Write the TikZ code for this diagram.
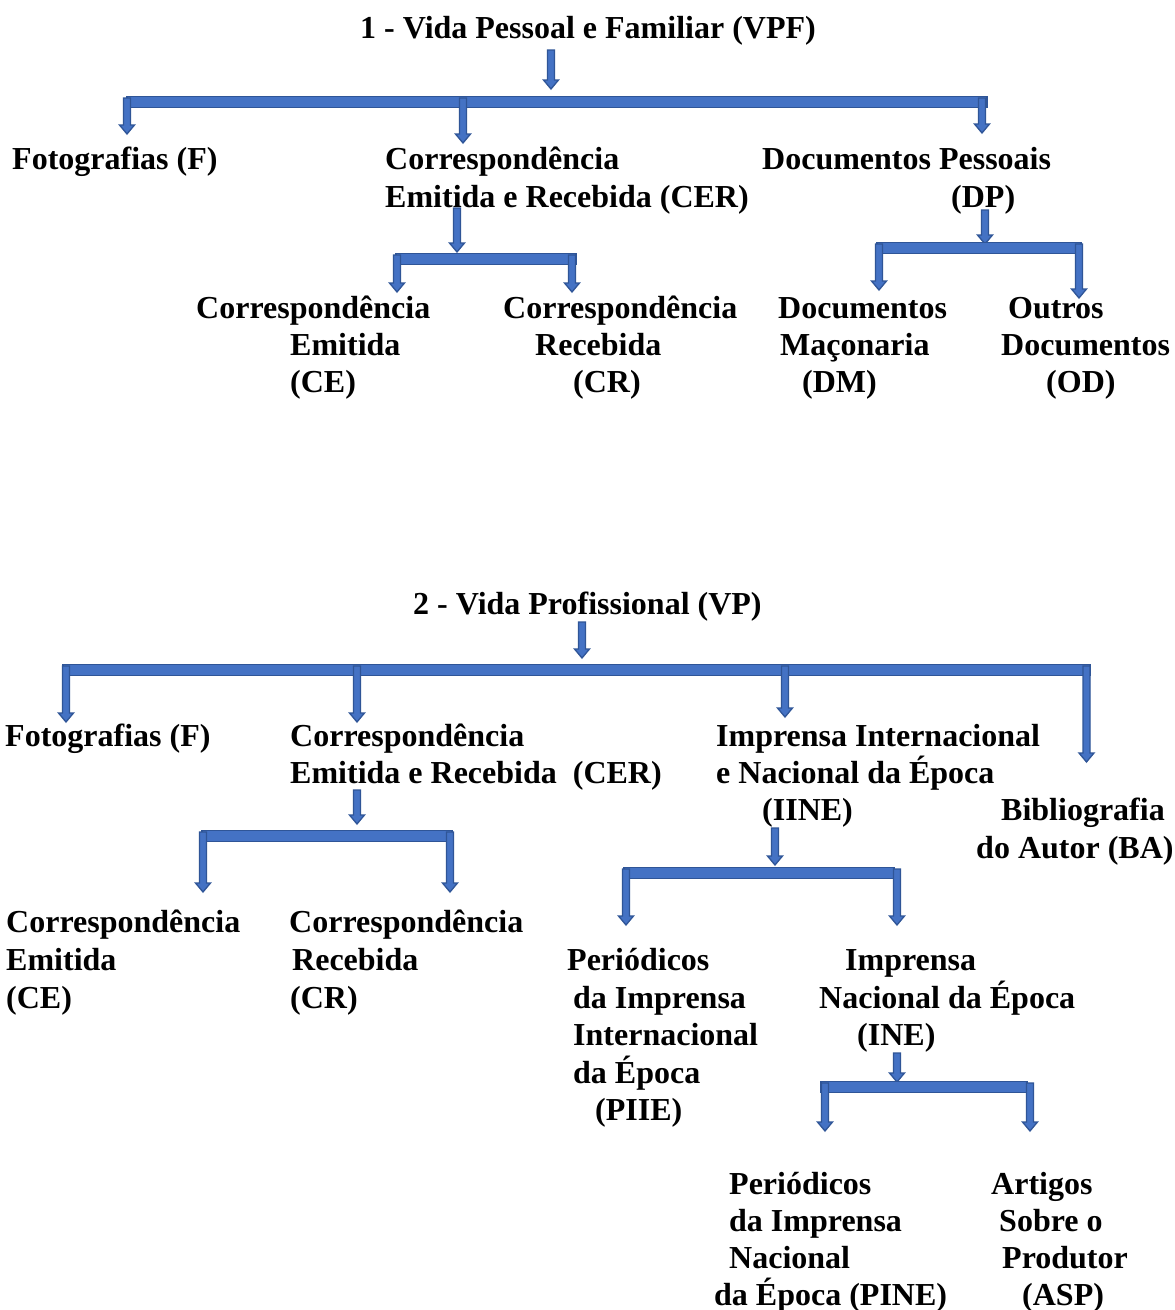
\documentclass[tikz,border=0pt]{standalone}
\usepackage{fontspec}
\setmainfont{Liberation Serif}
\definecolor{arrfill}{HTML}{4472C4}
\definecolor{arrline}{HTML}{2F5597}
\newcommand\tbfont{\fontsize{32}{37.5}\selectfont\bfseries}
\newcommand\blockarr[3]{\filldraw[arr] (#1-3.5,#2) -- (#1+3.5,#2) -- (#1+3.5,#3-9) -- (#1+7.5,#3-9) -- (#1,#3) -- (#1-7.5,#3-9) -- (#1-3.5,#3-9) -- cycle;}
\newcommand\blockbar[3]{\filldraw[arr] (#1,#3-5.5) rectangle (#2,#3+5.5);}
\tikzset{
  txt/.style={anchor=base west, inner sep=0pt, font=\tbfont, text=black, yshift=-1.5pt},
  arr/.style={fill=arrfill, draw=arrline, line width=1.3pt, line join=miter}
}
\begin{document}
\begin{tikzpicture}[x=1pt,y=-1pt]
\useasboundingbox (0,0) rectangle (1175,1310);
\fill[white] (0,0) rectangle (1175,1310);
% ---------- Section 1 ----------
\node[txt] (t1) at (360,36.5) {1 - Vida Pessoal e Familiar (VPF)};
\node[txt] (f1) at (12,167.5) {Fotografias (F)};
\node[txt] (cer1a) at (385,167.5) {Correspondência};
\node[txt] (cer1b) at (385,205.5) {Emitida e Recebida (CER)};
\node[txt] (dp1a) at (762,167.5) {Documentos Pessoais};
\node[txt] (dp1b) at (951,205.5) {(DP)};
\node[txt] (ce1a) at (196,316.5) {Correspondência};
\node[txt] (ce1b) at (290,353.5) {Emitida};
\node[txt] (ce1c) at (290,390.5) {(CE)};
\node[txt] (cr1a) at (503,316.5) {Correspondência};
\node[txt] (cr1b) at (535,353.5) {Recebida};
\node[txt] (cr1c) at (573,390.5) {(CR)};
\node[txt] (dm1a) at (778,316.5) {Documentos};
\node[txt] (dm1b) at (780,353.5) {Maçonaria};
\node[txt] (dm1c) at (802,390.5) {(DM)};
\node[txt] (od1a) at (1008,316.5) {Outros};
\node[txt] (od1b) at (1001,353.5) {Documentos};
\node[txt] (od1c) at (1046,390.5) {(OD)};
% arrows section 1
\blockarr{551}{50}{89}
\blockbar{127}{987}{102}
\blockarr{127}{98}{134}
\blockarr{463}{98}{143}
\blockarr{982}{98}{133}
\blockarr{457}{208}{252}
\blockbar{396}{576}{259}
\blockarr{397}{255}{292}
\blockarr{572}{255}{292}
\blockarr{985}{210}{244}
\blockbar{877}{1081}{248}
\blockarr{879}{244}{290}
\blockarr{1079}{244}{298}
% ---------- Section 2 ----------
\node[txt] (t2) at (413,612.5) {2 - Vida Profissional (VP)};
\node[txt] (f2) at (5,744.5) {Fotografias (F)};
\node[txt] (cer2a) at (290,744.5) {Correspondência};
\node[txt] (cer2b) at (290,781.5) {Emitida e Recebida\hspace*{16pt}(CER)};
\node[txt] (ii2a) at (716,744.5) {Imprensa Internacional};
\node[txt] (ii2b) at (716,781.5) {e Nacional da Época};
\node[txt] (ii2c) at (762,818.5) {(IINE)};
\node[txt] (ba2a) at (1001,818.5) {Bibliografia};
\node[txt] (ba2b) at (976,856.5) {do Autor (BA)};
\node[txt] (ce2a) at (6,930.5) {Correspondência};
\node[txt] (ce2b) at (6,968.5) {Emitida};
\node[txt] (ce2c) at (6,1006.5) {(CE)};
\node[txt] (cr2a) at (289,930.5) {Correspondência};
\node[txt] (cr2b) at (292,968.5) {Recebida};
\node[txt] (cr2c) at (290,1006.5) {(CR)};
\node[txt] (pi2a) at (567,968.5) {Periódicos};
\node[txt] (pi2b) at (573,1006.5) {da Imprensa};
\node[txt] (pi2c) at (573,1043.5) {Internacional};
\node[txt] (pi2d) at (573,1081.5) {da Época};
\node[txt] (pi2e) at (595,1118.5) {(PIIE)};
\node[txt] (in2a) at (845,968.5) {Imprensa};
\node[txt] (in2b) at (819,1006.5) {Nacional da Época};
\node[txt] (in2c) at (857,1043.5) {(INE)};
\node[txt] (pn2a) at (729,1192.5) {Periódicos};
\node[txt] (pn2b) at (729,1229.5) {da Imprensa};
\node[txt] (pn2c) at (729,1266.5) {Nacional};
\node[txt] (pn2d) at (714,1303.5) {da Época (PINE)};
\node[txt] (as2a) at (991,1192.5) {Artigos};
\node[txt] (as2b) at (999,1229.5) {Sobre o};
\node[txt] (as2c) at (1002,1266.5) {Produtor};
\node[txt] (as2d) at (1022,1303.5) {(ASP)};
% arrows section 2
\blockarr{582}{622}{658}
\blockbar{63}{1090}{670}
\blockarr{66}{666}{722}
\blockarr{357}{666}{722}
\blockarr{785}{666}{717}
\blockarr{1086.5}{666}{762}
\blockarr{357}{790}{824}
\blockbar{202}{452}{836}
\blockarr{203}{832}{892}
\blockarr{450}{832}{892}
\blockarr{775}{828}{865}
\blockbar{624}{894}{873}
\blockarr{626}{869}{925}
\blockarr{897}{869}{925}
\blockarr{897}{1053}{1082}
\blockbar{821}{1027}{1087}
\blockarr{825}{1083}{1131}
\blockarr{1030}{1083}{1131}
\end{tikzpicture}
\end{document}
